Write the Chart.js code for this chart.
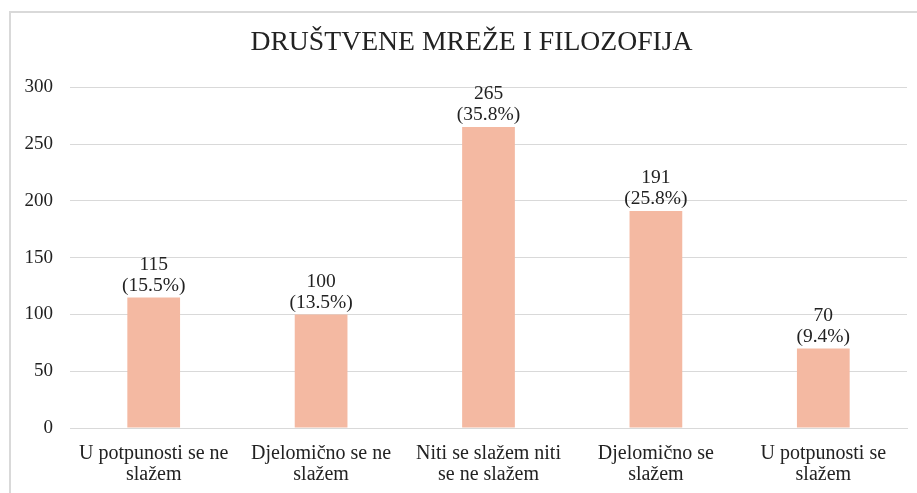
<!DOCTYPE html>
<html>
<head>
<meta charset="utf-8">
<script src="https://cdn.jsdelivr.net/npm/chart.js@4"></script>
<style>
  body { margin: 0; background: #fff; }
  #frame { position: absolute; left: 9px; top: 11px; width: 1000px; height: 600px; border: 2px solid #d9d9d9; }
  #wrap { position: absolute; left: 0; top: 0; width: 917px; height: 493px; }
</style>
</head>
<body>
<div id="frame"></div>
<div id="wrap"><canvas id="chart"></canvas></div>
<script>
  const categories = [
    ['U potpunosti se ne', 'slažem'],
    ['Djelomično se ne', 'slažem'],
    ['Niti se slažem niti', 'se ne slažem'],
    ['Djelomično se', 'slažem'],
    ['U potpunosti se', 'slažem']
  ];
  const counts = [115, 100, 265, 191, 70];
  const percents = [15.5, 13.5, 35.8, 25.8, 9.4];
  const yTicks = [0, 50, 100, 150, 200, 250, 300];

  const FONT = '"Liberation Serif", "Times New Roman", serif';
  const TEXT = '#222';

  // value labels above each bar: count on one line, percent below
  const barLabels = {
    id: 'barLabels',
    afterLayout(chart) {
      // title sits centred on the frame, not the canvas
      chart.titleBlock.left += 18;
      chart.titleBlock.right += 18;
    },
    afterDatasetsDraw(chart) {
      const ctx = chart.ctx;
      const meta = chart.getDatasetMeta(0);
      ctx.save();
      ctx.font = '19.5px ' + FONT;
      ctx.fillStyle = TEXT;
      ctx.textAlign = 'center';
      ctx.textBaseline = 'middle';
      meta.data.forEach((bar, i) => {
        ctx.fillText('(' + percents[i].toFixed(1) + '%)', bar.x, bar.y - 12);
        ctx.fillText(String(counts[i]), bar.x, bar.y - 33);
      });
      ctx.restore();
    }
  };

  new Chart(document.getElementById('chart'), {
    type: 'bar',
    data: {
      labels: categories,
      datasets: [{
        data: counts,
        backgroundColor: '#f4b9a2',
        borderWidth: 0,
        barPercentage: 0.63,
        categoryPercentage: 0.5
      }]
    },
    options: {
      responsive: true,
      maintainAspectRatio: false,
      animation: false,
      layout: { padding: { left: 0, right: 10, top: 0, bottom: 0 } },
      plugins: {
        legend: { display: false },
        tooltip: { enabled: false },
        title: {
          display: true,
          text: 'DRUŠTVENE MREŽE I FILOZOFIJA',
          color: TEXT,
          font: { family: FONT, size: 27.7, weight: 'normal' },
          padding: { top: 26, bottom: 28 }
        }
      },
      scales: {
        x: {
          grid: { display: false, drawTicks: false },
          border: { color: '#d9d9d9', width: 1 },
          ticks: {
            color: TEXT,
            padding: 15,
            maxRotation: 0,
            font: { family: FONT, size: 20, lineHeight: 1.05 }
          },
          afterFit: s => { s.height = 65; }
        },
        y: {
          min: 0,
          max: 300,
          afterBuildTicks: s => { s.ticks = yTicks.map(v => ({ value: v })); },
          grid: { color: '#d9d9d9', lineWidth: 1, drawTicks: false },
          border: { display: false },
          ticks: {
            color: TEXT,
            padding: 17,
            font: { family: FONT, size: 19 }
          },
          afterFit: s => { s.width = 70; }
        }
      }
    },
    plugins: [barLabels]
  });
</script>
</body>
</html>
